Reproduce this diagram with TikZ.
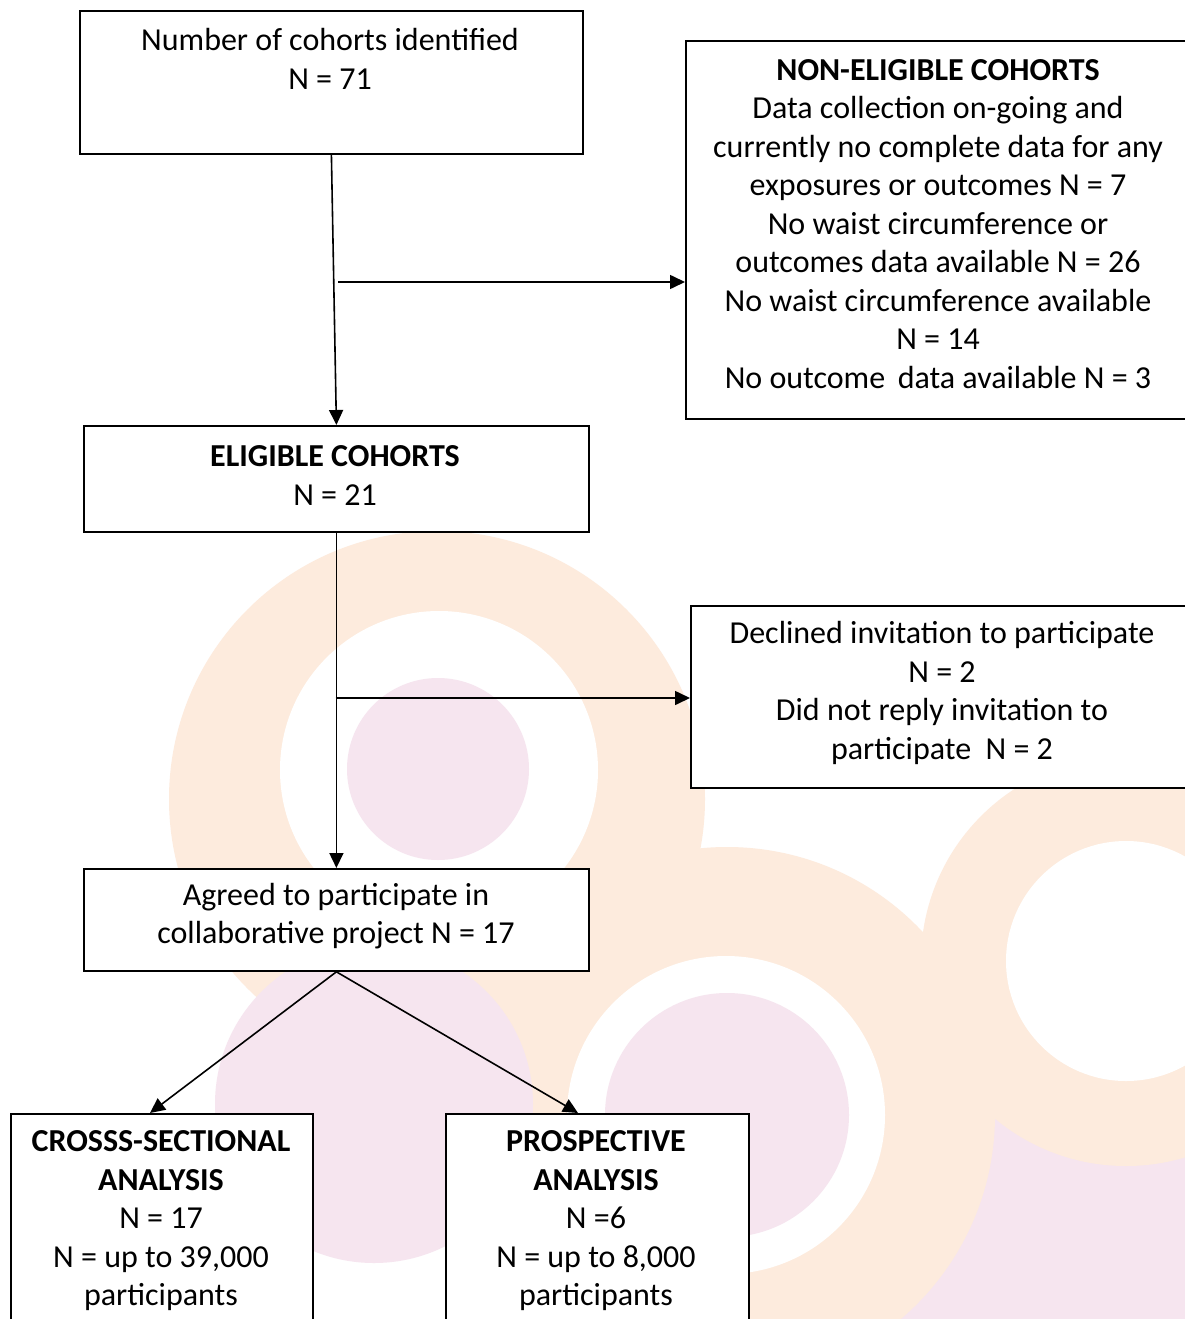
\documentclass[tikz,border=0pt]{standalone}
\usepackage{fontspec}
\setmainfont{Carlito}
\usetikzlibrary{arrows.meta,calc}
\definecolor{wmorange}{RGB}{253,235,221}
\definecolor{wmpink}{RGB}{246,229,239}
\begin{document}
\begin{tikzpicture}[x=1pt,y=-1pt,
  box/.style={draw, line width=1.8pt, fill=white, inner sep=0pt, anchor=north west},
  txt/.style={align=center, inner sep=0pt, font=\fontsize{32}{38.5}\selectfont},
  arr/.style={line width=1.6pt, -{Triangle[length=15pt,width=14pt]}}]
\clip (0,0) rectangle (1185,1319);
\fill[white] (0,0) rectangle (1185,1319);
% faint watermark
\fill[wmpink] (1130,1330) circle[radius=260];
\fill[wmorange] (437,799) circle[radius=268];
\fill[wmorange] (727,1115) circle[radius=268];
\fill[wmorange] (1126,961) circle[radius=205];
\fill[wmpink] (374,1104) circle[radius=159];
\fill[white] (439,770) circle[radius=159];
\fill[white] (726,1115) circle[radius=159];
\fill[white] (1126,961) circle[radius=120];
\fill[wmpink] (438,769) circle[radius=91];
\fill[wmpink] (727,1115) circle[radius=122];
% boxes
\node[box, minimum width=503, minimum height=143] (n1) at (79,10) {};
\node[box, minimum width=505, minimum height=106] (elig) at (83,425) {};
\node[box, minimum width=505, minimum height=378] (nonelig) at (685,40) {};
\node[box, minimum width=505, minimum height=182] (declined) at (690,605) {};
\node[box, minimum width=505, minimum height=102] (agreed) at (83,868) {};
\node[box, minimum width=302, minimum height=220] (cross) at (10,1113) {};
\node[box, minimum width=303, minimum height=220] (prosp) at (445,1113) {};
% texts
\node[txt] (t1) at (330,59) {Number of cohorts identified\\N = 71};
\node[txt] (t2) at (335,475.5) {\textbf{ELIGIBLE COHORTS}\\N = 21};
\node[txt] (t3) at (938,224) {\textbf{NON-ELIGIBLE COHORTS}\\Data collection on-going and\\currently no complete data for any\\exposures or outcomes N = 7\\No waist circumference or\\outcomes data available N = 26\\No waist circumference available\\N = 14\\No outcome\, data available N = 3};
\node[txt] (t4) at (942,693) {Declined invitation to participate\\N = 2\\Did not reply invitation to\\participate\ \ N = 2};
\node[txt] (t5) at (336,916) {Agreed to participate in\\collaborative project N = 17};
\node[txt] (t6) at (161,1221) {\textbf{CROSSS-SECTIONAL}\\\textbf{ANALYSIS}\\N = 17\\N = up to 39,000\\participants};
\node[txt] (t7) at (596,1221) {\textbf{PROSPECTIVE}\\\textbf{ANALYSIS}\\N =6\\N = up to 8,000\\participants};
% connectors
\coordinate (b1) at (338,282);
\coordinate (b2) at (335.5,698);
\coordinate (c1) at (150,1113);
\coordinate (c2) at (578,1113);
\draw[arr] (n1.south) -- (elig.north);
\draw[arr] (b1) -- (b1 -| nonelig.west);
\draw[arr] (elig.south) -- (agreed.north);
\draw[arr] (b2) -- (b2 -| declined.west);
\draw[arr] (agreed.south) -- (c1);
\draw[arr] (agreed.south) -- (c2);
\end{tikzpicture}
\end{document}
